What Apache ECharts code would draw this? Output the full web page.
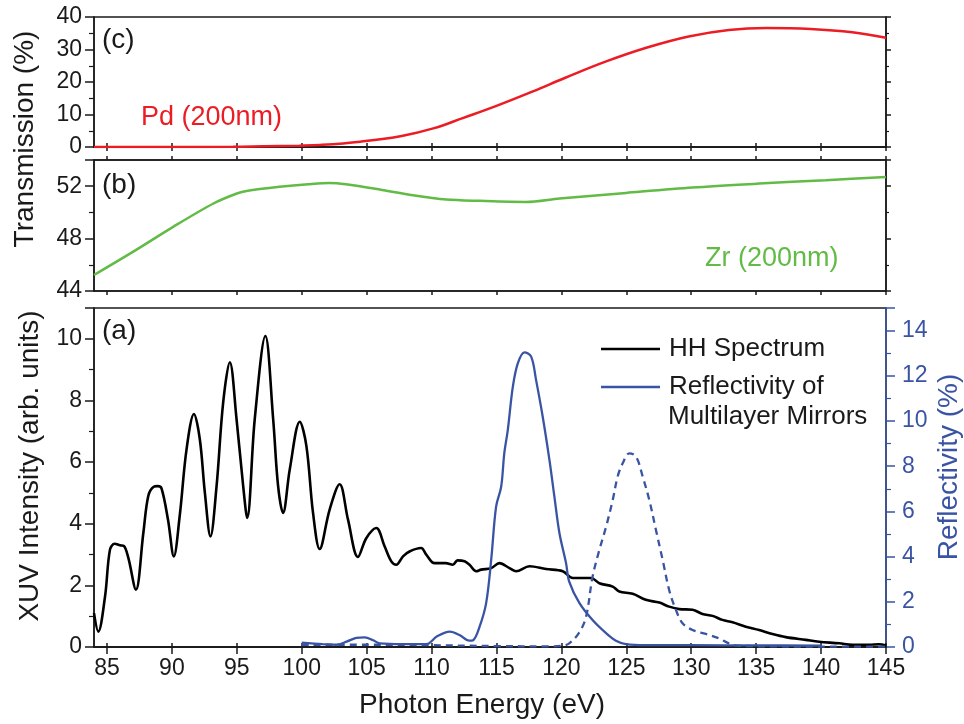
<!DOCTYPE html>
<html>
<head>
<meta charset="utf-8">
<script src="https://cdn.jsdelivr.net/npm/echarts@6.0.0/dist/echarts.min.js"></script>
<style>
  html, body { margin: 0; padding: 0; background: #fff; }
  #chart { width: 964px; height: 724px; }
</style>
</head>
<body>
<div id="chart"></div>
<script>
// x ticks (eV)
const energyTicks = [85, 90, 95, 100, 105, 110, 115, 120, 125, 130, 135, 140, 145]

// (a) HH spectrum, arb. units
const hhEnergy = [84.0, 84.33, 84.85, 85.23, 85.6, 86.0, 86.3, 86.64, 87.23, 87.8, 88.18, 88.6, 88.9, 89.2, 89.7,
  90.15, 90.6, 91.13, 91.7, 92.15, 92.54, 92.97, 93.44, 93.95, 94.46, 94.98, 95.49, 95.8, 96.38, 97.2, 97.8,
  98.18, 98.56, 99.08, 99.85, 100.36, 100.87, 101.38, 102.15, 102.92, 103.56, 104.33, 104.97, 105.74, 106.38,
  106.9, 107.28, 107.8, 108.3, 109.2, 109.59, 110.23, 111.1, 111.64, 112.0, 112.54, 112.92, 113.44, 113.82,
  114.59, 115.23, 116.0, 116.51, 117.54, 118.82, 120.1, 120.87, 122.28, 122.92, 123.95, 124.46, 125.49, 126.5,
  127.54, 128.3, 129.08, 130.1, 130.87, 131.64, 132.4, 133.18, 134.2, 135.23, 136.26, 137.28, 138.82, 139.85,
  141.4, 142.4, 143.7, 144.46, 145]
const hhIntensity = [1.1, 0.5, 1.64, 3.16, 3.35, 3.3, 3.28, 2.9, 1.86, 3.7, 4.9, 5.2, 5.22, 5.15, 4.13,
  2.94, 4.25, 6.42, 7.56, 6.74, 5.0, 3.59, 5.22, 7.94, 9.24, 7.39, 5.22, 4.19, 7.39, 10.09, 7.39,
  5.22, 4.35, 5.77, 7.31, 6.52, 4.35, 3.18, 4.46, 5.28, 4.14, 2.92, 3.53, 3.86, 3.27,
  2.78, 2.67, 2.94, 3.1, 3.21, 3.0, 2.72, 2.72, 2.67, 2.81, 2.78, 2.67, 2.46, 2.51,
  2.56, 2.72, 2.56, 2.46, 2.62, 2.53, 2.46, 2.24, 2.24, 2.07, 1.96, 1.8, 1.73, 1.53,
  1.44, 1.31, 1.23, 1.21, 1.07, 1.01, 0.88, 0.8, 0.66, 0.55, 0.42, 0.32, 0.23, 0.17,
  0.12, 0.07, 0.07, 0.09, 0.05]

// (a) mirror reflectivity, % (solid)
const mirror1Energy = [100, 101.6, 102.67, 103.5, 104.2, 104.85, 105.5, 106, 107.8, 109.6, 110.4, 111.4, 112.15,
  112.9, 113.2, 113.7, 114.2, 114.59, 114.97, 115.36, 115.6, 115.87, 116.26, 116.64, 117.15, 117.67, 118.05,
  118.56, 119.08, 119.46, 119.85, 120.36, 120.6, 121.38, 122.4, 123.44, 124.2, 124.97, 126.5, 130, 135, 140]
const mirror1Refl = [0.19, 0.13, 0.1, 0.25, 0.4, 0.43, 0.3, 0.16, 0.13, 0.13, 0.46, 0.68, 0.53,
  0.28, 0.3, 0.9, 1.93, 3.85, 6.21, 7.09, 8.57, 9.6, 11.52, 12.55, 13.04, 12.85, 11.81,
  10.19, 8.27, 6.65, 5.03, 3.7, 2.89, 1.95, 1.19, 0.61, 0.28, 0.13, 0.08, 0.08, 0.07, 0.06]

// (a) mirror reflectivity, % (dashed)
const mirror2Energy = [100, 105, 110, 115, 119, 120, 120.6, 121.38, 121.9, 122.4, 122.92, 123.44, 123.95, 124.33,
  124.72, 125.23, 125.75, 126.26, 126.77, 127.28, 127.8, 128.3, 128.82, 129.33, 130.1, 131.13, 132.15, 132.9,
  133.7, 140, 145]
const mirror2Refl = [0.1, 0.1, 0.08, 0.04, 0.03, 0.05, 0.16, 0.65, 1.34, 3.11, 4.29, 5.32, 6.5, 7.54,
  8.13, 8.57, 8.42, 7.54, 6.5, 5.18, 3.85, 2.52, 1.64, 1.05, 0.75, 0.58, 0.38, 0.16,
  0.05, 0.02, 0.02]

// (b) Zr transmission, %
const zrEnergy = [84, 86.8, 90.1, 93.2, 95.0, 95.75, 98.3, 100.5, 102.15, 103.4, 106, 108.56, 111.13, 113.7,
  117.28, 119.85, 124.98, 130.1, 135.23, 140.36, 145]
const zrTrans = [45.22, 46.87, 48.9, 50.68, 51.44, 51.64, 51.95, 52.15, 52.25, 52.15, 51.75, 51.31, 50.98, 50.88,
  50.8, 51.06, 51.49, 51.9, 52.2, 52.46, 52.71]

// (c) Pd transmission, %
const pdEnergy = [84, 90, 94.7, 97, 99.8, 101.4, 104.5, 107.7, 110.2, 112.4, 114.9, 117.8, 120.3, 123.5, 126.6,
  129.8, 132.9, 135.8, 139.2, 142.4, 145]
const pdTrans = [0, 0, 0.05, 0.2, 0.4, 0.62, 1.65, 3.4, 5.8, 8.9, 12.5, 17.1, 21.3, 26.4, 30.6,
  34.0, 36.0, 36.6, 36.3, 35.3, 33.6]

const zip = (xs, ys) => xs.map((x, i) => [x, ys[i]])

const FONT = 'Arial, "Liberation Sans", Helvetica, sans-serif'
const INK = '#1a1a1a'
const RED = '#ec1c24'
const GREEN = '#62bb46'
const BLUE = '#3a54a4'

const chart = echarts.init(document.getElementById('chart'), null, { renderer: 'canvas' })

// shared x axis pieces
const xBase = (grid, pos, showLabel) => ({
  type: 'value',
  gridIndex: grid,
  position: pos,
  min: 84,
  max: 145,
  splitLine: { show: false },
  axisLine: { lineStyle: { color: INK, width: 1.5 } },
  axisTick: { customValues: energyTicks, length: showLabel ? 7 : 4, lineStyle: { color: INK, width: 1.5 } },
  axisLabel: { show: showLabel, customValues: energyTicks, color: INK, fontSize: 23, fontFamily: FONT, margin: 10 },
})

const yBase = (grid, pos, min, max, interval, showLabel, showMax, color) => ({
  type: 'value',
  gridIndex: grid,
  position: pos,
  min: min,
  max: max,
  interval: interval,
  splitLine: { show: false },
  axisLine: { show: true, lineStyle: { color: color || INK, width: 1.5 } },
  axisTick: { length: showLabel ? 9 : 5, lineStyle: { color: color || INK, width: 1.5 } },
  minorTick: { show: true, splitNumber: 2, length: showLabel ? 5 : 3, lineStyle: { color: color || INK, width: 1.2 } },
  axisLabel: {
    show: showLabel, showMaxLabel: showMax, color: color || INK,
    fontSize: 23, fontFamily: FONT, margin: pos === 'right' ? 16 : 12,
  },
})

const titleText = (text, x, y, color) => ({
  type: 'text', x: x, y: y, rotation: Math.PI / 2,
  style: { text: text, fontSize: 28, fontFamily: FONT, fill: color, align: 'center', verticalAlign: 'middle' },
})

const option = {
  backgroundColor: '#fff',
  animation: false,
  grid: [
    { left: 94, top: 17, width: 792, height: 130, show: true, borderColor: INK, borderWidth: 1.5 },
    { left: 94, top: 160, width: 792, height: 131, show: true, borderColor: INK, borderWidth: 1.5 },
    { left: 94, top: 308, width: 792, height: 339, show: true, borderColor: INK, borderWidth: 1.5 },
  ],
  xAxis: [
    xBase(0, 'bottom', false),
    xBase(0, 'top', false),
    xBase(1, 'bottom', false),
    xBase(1, 'top', false),
    Object.assign(xBase(2, 'bottom', true), {
      name: 'Photon Energy (eV)',
      nameLocation: 'middle',
      nameGap: 44,
      nameTextStyle: { color: INK, fontSize: 28, fontFamily: FONT, padding: [0, 16, 0, 0] },
    }),
    xBase(2, 'top', false),
  ],
  yAxis: [
    yBase(0, 'left', 0, 40, 10, true, true),
    yBase(0, 'right', 0, 40, 10, false),
    yBase(1, 'left', 44, 54, 4, true, false),
    yBase(1, 'right', 44, 54, 4, false),
    yBase(2, 'left', 0, 11, 2, true, false),
    yBase(2, 'right', 0, 15, 2, true, false, BLUE),
  ],
  legend: {
    data: ['HH Spectrum', 'Reflectivity of Multilayer Mirrors'],
    orient: 'vertical',
    left: 596,
    top: 331,
    icon: 'rect',
    itemWidth: 59,
    itemHeight: 2.5,
    itemGap: 12,
    formatter: (name) => name === 'HH Spectrum' ? name : 'Reflectivity of',
    textStyle: { color: INK, fontSize: 26, fontFamily: FONT, padding: [0, 0, 0, 4] },
  },
  graphic: [
    { type: 'text', left: 102, top: 26, style: { text: '(c)', fontSize: 28, fontFamily: FONT, fill: INK } },
    { type: 'text', left: 102, top: 171, style: { text: '(b)', fontSize: 28, fontFamily: FONT, fill: INK } },
    { type: 'text', left: 102, top: 317, style: { text: '(a)', fontSize: 28, fontFamily: FONT, fill: INK } },
    { type: 'text', left: 141, top: 104, style: { text: 'Pd (200nm)', fontSize: 27, fontFamily: FONT, fill: RED } },
    { type: 'text', left: 705, top: 245, style: { text: 'Zr (200nm)', fontSize: 27, fontFamily: FONT, fill: GREEN } },
    { type: 'text', left: 668, top: 404, style: { text: 'Multilayer Mirrors', fontSize: 26, fontFamily: FONT, fill: INK } },
    titleText('Transmission (%)', 25, 139, INK),
    titleText('XUV Intensity (arb. units)', 30, 466, INK),
    titleText('Reflectivity (%)', 949, 467, BLUE),
  ],
  series: [
    {
      name: 'Pd (200nm)', type: 'line', xAxisIndex: 0, yAxisIndex: 0,
      data: zip(pdEnergy, pdTrans), symbol: 'none', smooth: 0.4,
      lineStyle: { color: RED, width: 2.5 }, itemStyle: { color: RED },
    },
    {
      name: 'Zr (200nm)', type: 'line', xAxisIndex: 2, yAxisIndex: 2,
      data: zip(zrEnergy, zrTrans), symbol: 'none', smooth: 0.3,
      lineStyle: { color: GREEN, width: 2.5 }, itemStyle: { color: GREEN },
    },
    {
      name: 'HH Spectrum', type: 'line', xAxisIndex: 4, yAxisIndex: 4,
      data: zip(hhEnergy, hhIntensity), symbol: 'none', smooth: 0.35,
      lineStyle: { color: '#000', width: 2.6 }, itemStyle: { color: '#000' },
    },
    {
      name: 'Reflectivity of Multilayer Mirrors', type: 'line', xAxisIndex: 4, yAxisIndex: 5,
      data: zip(mirror1Energy, mirror1Refl), symbol: 'none', smooth: 0.35,
      lineStyle: { color: BLUE, width: 2.3 }, itemStyle: { color: BLUE },
    },
    {
      name: 'Mirror 2', type: 'line', xAxisIndex: 4, yAxisIndex: 5,
      data: zip(mirror2Energy, mirror2Refl), symbol: 'none', smooth: 0.35,
      lineStyle: { color: BLUE, width: 2.3, type: [7, 5] }, itemStyle: { color: BLUE },
    },
  ],
}

chart.setOption(option)
</script>
</body>
</html>
